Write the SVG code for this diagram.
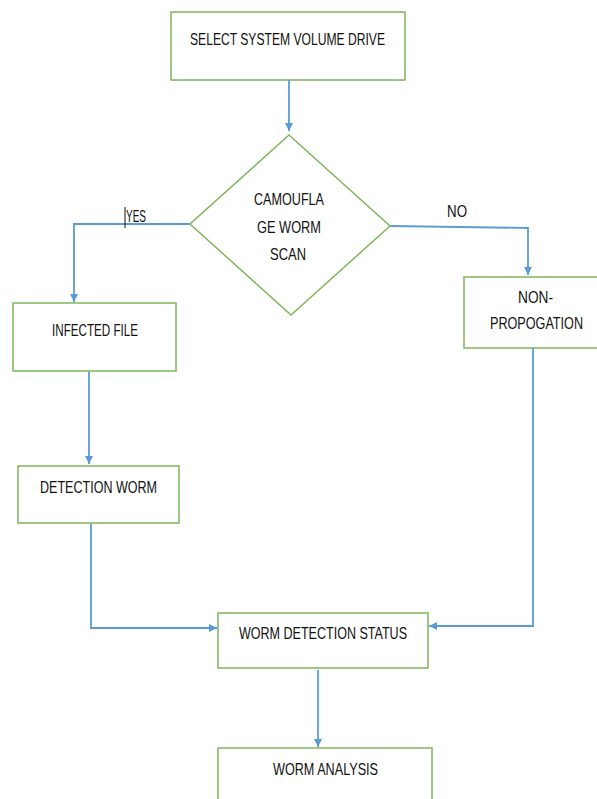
<svg xmlns="http://www.w3.org/2000/svg" width="597" height="799" viewBox="0 0 597 799">
<defs>
<marker id="ah" viewBox="0 0 10 10" refX="10" refY="5" markerWidth="8" markerHeight="8" markerUnits="userSpaceOnUse" orient="auto">
<path d="M0,0 L10,5 L0,10 z" fill="#5B9BD5"/>
</marker>
<style>
.box{fill:#fff;stroke:#7EB55A;stroke-width:1.5}
.con{fill:none;stroke:#5B9BD5;stroke-width:1.8;marker-end:url(#ah)}
.t{font-family:"Liberation Sans Narrow","Liberation Sans",Arial,sans-serif;font-size:17px;fill:#111}
</style>
</defs>
<rect width="597" height="799" fill="#fff"/>
<g id="connectors">
<path class="con" d="M289,80 L289,131"/>
<path class="con" d="M190,224 L74,224 L74,302"/>
<path class="con" d="M390,226 L528,228 L528,275"/>
<path class="con" d="M89,372 L89,464"/>
<path class="con" d="M91,524 L91,628 L217,628"/>
<path class="con" d="M533,348 L533,626 L429,626"/>
<path class="con" d="M318,670 L318,747"/>
</g>
<g id="n1"><rect class="box" x="171" y="12" width="234" height="68"/>
<text class="t" x="190" y="45" textLength="195" lengthAdjust="spacingAndGlyphs">SELECT SYSTEM VOLUME DRIVE</text></g>
<g id="n2"><polygon class="box" points="289,135 390,226 291,315 190,224"/>
<text class="t" x="254" y="205" textLength="70" lengthAdjust="spacingAndGlyphs">CAMOUFLA</text>
<text class="t" x="257" y="233" textLength="64" lengthAdjust="spacingAndGlyphs">GE WORM</text>
<text class="t" x="270" y="260" textLength="36" lengthAdjust="spacingAndGlyphs">SCAN</text></g>
<g id="lbl-yes"><line x1="125" y1="207" x2="125" y2="228" stroke="#111" stroke-width="1"/>
<text class="t" x="126" y="222" textLength="20" lengthAdjust="spacingAndGlyphs">YES</text></g>
<g id="lbl-no"><text class="t" x="447" y="217" textLength="20" lengthAdjust="spacingAndGlyphs">NO</text></g>
<g id="n3"><rect class="box" x="13" y="303" width="163" height="68"/>
<text class="t" x="52" y="336" textLength="86" lengthAdjust="spacingAndGlyphs">INFECTED FILE</text></g>
<g id="n4"><rect class="box" x="464" y="277" width="140" height="71"/>
<text class="t" x="518" y="303" textLength="35" lengthAdjust="spacingAndGlyphs">NON-</text>
<text class="t" x="490" y="329" textLength="93" lengthAdjust="spacingAndGlyphs">PROPOGATION</text></g>
<g id="n5"><rect class="box" x="18" y="466" width="161" height="57"/>
<text class="t" x="40" y="493" textLength="117" lengthAdjust="spacingAndGlyphs">DETECTION WORM</text></g>
<g id="n6"><rect class="box" x="218" y="613" width="210" height="55"/>
<text class="t" x="239" y="639" textLength="168" lengthAdjust="spacingAndGlyphs">WORM DETECTION STATUS</text></g>
<g id="n7"><rect class="box" x="218" y="748" width="214" height="60"/>
<text class="t" x="273" y="775" textLength="105" lengthAdjust="spacingAndGlyphs">WORM ANALYSIS</text></g>
</svg>
